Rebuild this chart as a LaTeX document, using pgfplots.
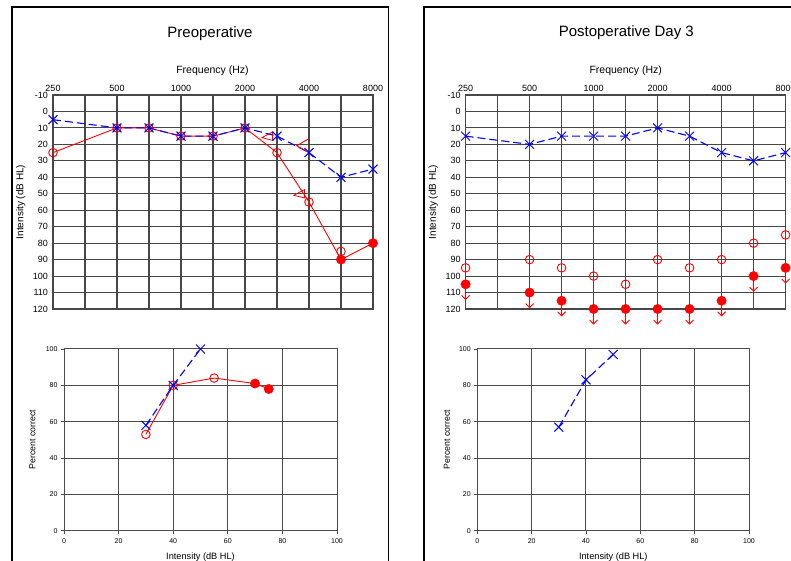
\documentclass[border=0pt]{standalone}
\usepackage{fontspec}
\setmainfont{Liberation Sans}
\usepackage{pgfplots}
\pgfplotsset{compat=1.18}
\usetikzlibrary{arrows.meta}

\pgfdeclareplotmark{ltbr}{%
  \pgfpathmoveto{\pgfqpoint{5.8pt}{6.7pt}}%
  \pgfpathlineto{\pgfqpoint{-5.8pt}{0pt}}%
  \pgfpathlineto{\pgfqpoint{5.8pt}{-6.7pt}}%
  \pgfusepathqstroke}
\pgfdeclareplotmark{ltri}{%
  \pgfpathmoveto{\pgfqpoint{-5.5pt}{-1.5pt}}%
  \pgfpathlineto{\pgfqpoint{5.2pt}{4.2pt}}%
  \pgfpathlineto{\pgfqpoint{5.2pt}{-4.2pt}}%
  \pgfpathclose
  \pgfusepathqstroke}

\pgfplotsset{
  aud/.style={
    scale only axis, width=320pt, height=214pt,
    xmin=0, xmax=10, ymin=-10, ymax=120, y dir=reverse,
    xtick={0,...,10}, xticklabels={250,,500,,1000,,2000,,4000,,8000},
    xticklabel pos=upper,
    ytick={-10,0,...,120},
    grid=major,
    major grid style={draw=black!72, line width=1.1pt},
    axis line style={draw=black!72, line width=1.1pt},
    major tick length=0pt,
    tick style={draw=none},
    ticklabel style={font=\fontsize{9}{9}\selectfont},
    xticklabel style={yshift=-0.5pt},
    yticklabel style={xshift=-1.5pt},
    /pgf/number format/assume math mode=true,
    clip=false,
  },
  sp/.style={
    scale only axis, height=181.7pt,
    xmin=0, xmax=100, ymin=0, ymax=100,
    xtick={0,20,...,100}, ytick={0,20,...,100},
    grid=major,
    major grid style={draw=black!70, line width=1pt},
    axis line style={draw=black!70, line width=1pt},
    tick pos=left, tick align=outside, major tick length=3pt,
    tick style={draw=black!70, line width=0.8pt},
    ticklabel style={font=\fontsize{7}{7}\selectfont},
    xticklabel style={yshift=-1.5pt},
    /pgf/number format/assume math mode=true,
    clip=false,
  },
  bluex/.style={blue, line width=1.1pt, dash pattern=on 8pt off 4pt,
    mark=x, mark size=6.3pt, mark options={solid, line width=1pt}},
  redline/.style={red, line width=0.9pt},
  redo/.style={red, only marks, mark=o, mark size=4.3pt, mark options={line width=0.9pt}},
  redf/.style={red, only marks, mark=*, mark size=4.7pt, mark options={fill=red, draw=red}},
}

\begin{document}
\begin{tikzpicture}[x=1pt,y=1pt]
\path[use as bounding box] (0,0) rectangle (791,561);

% panel frames
\draw[line width=1.8pt] (12,554.3) -- (388.5,554.3) -- (388.5,-20) -- (12,-20) -- cycle;
\draw[line width=1.8pt] (424,554.3) -- (820,554.3) -- (820,-20) -- (424,-20) -- cycle;

% ---------- Left panel ----------
\node[anchor=base, font=\fontsize{15}{15}\selectfont] at (210,523.3) {Preoperative};
\node[anchor=base, font=\fontsize{10.5}{10.5}\selectfont] at (212.5,487.7) {Frequency (Hz)};
\node[rotate=90, font=\fontsize{10}{10}\selectfont] at (20.7,359) {Intensity (dB HL)};

\begin{axis}[aud, at={(53pt,252pt)}, anchor=south west]
  \addplot[redline] coordinates {(0,25)(2,10)(3,10)(4,15)(5,15)(6,10)(7,25)(8,55)(9,90)(10,80)};
  \addplot[redo] coordinates {(0,25)(2,10)(3,10)(4,15)(5,15)(6,10)(7,25)(8,55)(9,85)};
  \addplot[redf] coordinates {(9,90)(10,80)};
  \addplot[red, only marks, mark=ltri, mark options={line width=0.8pt}] coordinates {(6.7,15)(7.7,50)};
  \addplot[red, only marks, mark=ltbr, mark options={line width=0.9pt}] coordinates {(7.8,20.8)};
  \addplot[bluex] coordinates {(0,5)(2,10)(3,10)(4,15)(5,15)(6,10)(7,15)(8,25)(9,40)(10,35)};
\end{axis}

\node[rotate=90, font=\fontsize{8.75}{8.75}\selectfont] at (32.3,121.2) {Percent correct};
\node[anchor=base, font=\fontsize{9.2}{9.2}\selectfont] at (200.5,1.5) {Intensity (dB HL)};

\begin{axis}[sp, width=273pt, at={(64pt,30.3pt)}, anchor=south west]
  \addplot[redline] coordinates {(30,53)(40,80)(55,84)(70,81)(75,78)};
  \addplot[redo] coordinates {(30,53)(40,80)(55,84)};
  \addplot[redf] coordinates {(70,81)(75,78)};
  \addplot[bluex] coordinates {(30,58)(40,80)(50,100)};
\end{axis}

% ---------- Right panel ----------
\node[anchor=base, font=\fontsize{15}{15}\selectfont] at (626.3,524.3) {Postoperative Day 3};
\node[anchor=base, font=\fontsize{10.5}{10.5}\selectfont] at (625.7,487.5) {Frequency (Hz)};
\node[rotate=90, font=\fontsize{10}{10}\selectfont] at (433.3,359) {Intensity (dB HL)};

\begin{axis}[aud, at={(465.6pt,252pt)}, anchor=south west]
  \addplot[red, line width=0.9pt, quiver={u=0,v=9.5}, -{Straight Barb[length=4pt,width=8pt,line width=0.9pt]}]
    coordinates {(0,105)(2,110)(3,115)(4,120)(5,120)(6,120)(7,120)(8,115)(9,100)(10,95)};
  \addplot[redo] coordinates {(0,95)(2,90)(3,95)(4,100)(5,105)(6,90)(7,95)(8,90)(9,80)(10,75)};
  \addplot[redf] coordinates {(0,105)(2,110)(3,115)(4,120)(5,120)(6,120)(7,120)(8,115)(9,100)(10,95)};
  \addplot[bluex] coordinates {(0,15)(2,20)(3,15)(4,15)(5,15)(6,10)(7,15)(8,25)(9,30)(10,25)};
\end{axis}

\node[rotate=90, font=\fontsize{8.75}{8.75}\selectfont] at (446.8,121.2) {Percent correct};
\node[anchor=base, font=\fontsize{9.2}{9.2}\selectfont] at (613.3,1.5) {Intensity (dB HL)};

\begin{axis}[sp, width=271.7pt, at={(477.3pt,30.3pt)}, anchor=south west]
  \addplot[bluex] coordinates {(30,57)(40,83)(50,97)};
\end{axis}
\end{tikzpicture}
\end{document}
